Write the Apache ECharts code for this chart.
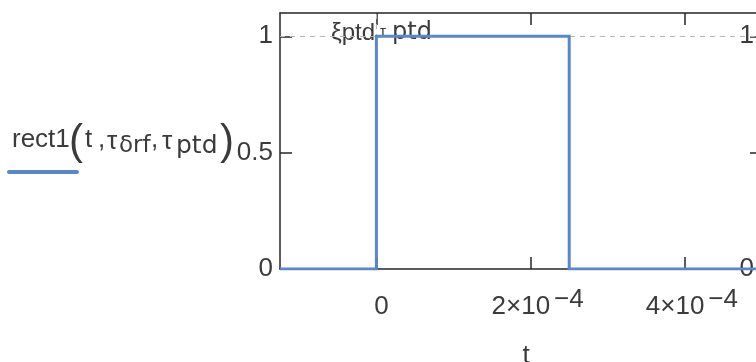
<!DOCTYPE html>
<html>
<head>
<meta charset="utf-8">
<title>rect1 pulse</title>
<script src="https://cdn.jsdelivr.net/npm/echarts@6/dist/echarts.min.js"></script>
<style>
  html, body { margin: 0; padding: 0; background: #ffffff; }
  #chart { width: 756px; height: 362px; }
</style>
</head>
<body>
<div id="chart"></div>
<script>
// Rectangular pulse rect1(t, τδrf, τptd): starts at t = 0, lasts τptd
const tPoints = [-1.25e-4, 0, 0, 2.5e-4, 2.5e-4, 5e-4];
const rectValues = [0, 0, 1, 1, 0, 0];

// Axis ranges and tick positions
const tRange = [-1.25e-4, 5e-4];
const yRange = [0, 1.1];
const xTickValues = [0, 2e-4, 4e-4];
const xTickMantissa = ['0', '2×10', '4×10'];
const xTickExponent = ['', '−4', '−4'];
const yTickValues = [0, 0.5, 1];
const yTickLabels = ['0', '0.5', '1'];

// Horizontal markers (value shown at the right edge) and the vertical marker
const hMarkers = [1, 0];
const vMarker = 0;

const ink = '#3b3b3b';
const frame = '#262626';
const blue = '#5a86cc';
const font = '"Liberation Sans", Arial, sans-serif';
const wide = '"DejaVu Sans", sans-serif';

const chart = echarts.init(document.getElementById('chart'), null, { renderer: 'canvas' });

const tickStyle = { show: true, inside: true, length: 12, lineStyle: { color: frame, width: 1.5 } };
const lineStyleAxis = { show: true, onZero: false, lineStyle: { color: frame, width: 1.5 } };

// tick label with a raised exponent; a zero-width token keeps every label the same height
function xLabel(v) {
  const i = xTickValues.findIndex(x => Math.abs(x - v) < 1e-12);
  if (i < 0) return '';
  const exp = xTickExponent[i] ? xTickExponent[i] : '\u200b';
  return '{b|' + xTickMantissa[i] + '}{s|' + exp + '}';
}
function yLabel(v) {
  const i = yTickValues.findIndex(x => Math.abs(x - v) < 1e-9);
  return i < 0 ? '' : yTickLabels[i];
}

// the marker on the t axis itself is hidden by the solid frame line
const dashedMarkers = hMarkers.filter(v => v !== yRange[0]).map(v => ({ yAxis: v }))
  .concat([{ xAxis: vMarker }]);

const option = {
  animation: false,
  backgroundColor: '#ffffff',
  grid: { left: 280, right: -6, top: 13, bottom: 93, containLabel: false, outerBoundsMode: 'none' },
  xAxis: [
    {
      type: 'value', position: 'bottom', min: tRange[0], max: tRange[1],
      axisLine: lineStyleAxis,
      axisTick: Object.assign({ customValues: xTickValues }, tickStyle),
      splitLine: { show: false },
      axisLabel: {
        customValues: xTickValues, margin: 18, color: ink,
        formatter: xLabel, padding: [0, 0, 0, 14],
        rich: {
          b: { fontSize: 26, fontFamily: font, color: ink, verticalAlign: 'bottom' },
          s: { fontSize: 26, fontFamily: font, color: ink, verticalAlign: 'top', padding: [0, 0, 7, 4] }
        }
      },
      name: 't', nameLocation: 'middle', nameGap: 74,
      nameTextStyle: { fontSize: 26, fontFamily: font, color: ink, padding: [0, 0, 0, 10] }
    },
    {
      type: 'value', position: 'top', min: tRange[0], max: tRange[1],
      axisLine: lineStyleAxis,
      axisTick: Object.assign({ customValues: xTickValues }, tickStyle),
      axisLabel: { show: false },
      splitLine: { show: false }
    }
  ],
  yAxis: [
    {
      type: 'value', position: 'left', min: yRange[0], max: yRange[1],
      axisLine: lineStyleAxis,
      axisTick: Object.assign({ customValues: yTickValues }, tickStyle),
      splitLine: { show: false },
      axisLabel: {
        customValues: yTickValues, margin: 7, color: ink,
        fontSize: 26, fontFamily: font, formatter: yLabel, padding: [12, 0, 0, 0]
      }
    },
    {
      type: 'value', position: 'right', min: yRange[0], max: yRange[1],
      axisLine: lineStyleAxis,
      axisTick: Object.assign({ customValues: yTickValues }, tickStyle),
      splitLine: { show: false },
      axisLabel: {
        customValues: hMarkers, inside: true, margin: 8, color: ink,
        fontSize: 26, fontFamily: font, padding: [8, 0, 0, 0],
        formatter: v => String(v)
      }
    }
  ],
  series: [
    {
      type: 'line',
      name: 'rect1',
      xAxisIndex: 0, yAxisIndex: 0,
      data: tPoints.map((t, i) => [t, rectValues[i]]),
      showSymbol: false, symbol: 'none',
      lineStyle: { color: blue, width: 3, join: 'miter' },
      itemStyle: { color: blue },
      z: 5,
      markLine: {
        silent: true, symbol: 'none', z: 1,
        label: { show: false },
        lineStyle: { color: '#b5b5b5', type: [5, 5], width: 1 },
        data: dashedMarkers
      }
    }
  ],
  graphic: [
    // y-axis expression and its trace sample
    { type: 'text', left: 12, top: 127, style: { text: 'rect1', font: '26px ' + font, fill: ink } },
    { type: 'text', left: 69, top: 121, style: { text: '(', font: '42px ' + font, fill: ink } },
    { type: 'text', left: 85, top: 127, style: { text: 't', font: '26px ' + font, fill: ink } },
    { type: 'text', left: 98, top: 127, style: { text: ',', font: '26px ' + font, fill: ink } },
    { type: 'text', left: 107, top: 129, style: { text: 'τ', font: '26px ' + font, fill: ink } },
    { type: 'text', left: 119, top: 135, style: { text: 'δrf', font: '23px ' + wide, fill: ink } },
    { type: 'text', left: 151, top: 127, style: { text: ',', font: '26px ' + font, fill: ink } },
    { type: 'text', left: 162, top: 129, style: { text: 'τ', font: '26px ' + font, fill: ink } },
    { type: 'text', left: 176, top: 134, style: { text: 'ptd', font: '25px ' + wide, fill: ink } },
    { type: 'text', left: 220, top: 121, style: { text: ')', font: '42px ' + font, fill: ink } },
    { type: 'rect', shape: { x: 7, y: 170, width: 72, height: 4, r: 2 }, style: { fill: blue } },
    // vertical marker expression ξptd·τptd
    { type: 'text', left: 331, top: 21, style: { text: 'ξptd', font: '24px ' + font, fill: ink } },
    { type: 'text', left: 380, top: 24, style: { text: 'τ', font: '15px ' + font, fill: ink } },
    { type: 'text', left: 392, top: 21, style: { text: 'ptd', font: '24px ' + wide, fill: ink } }
  ]
};

chart.setOption(option);
</script>
</body>
</html>
